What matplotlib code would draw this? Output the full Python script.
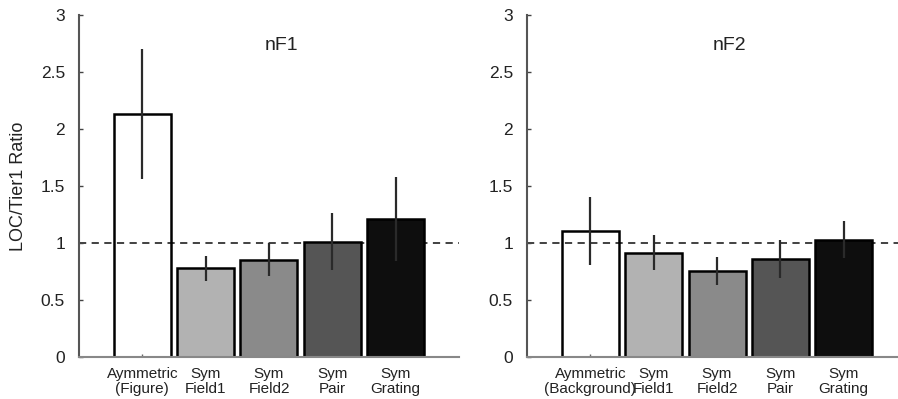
import matplotlib
matplotlib.use("Agg")
import matplotlib.pyplot as plt
import numpy as np

plt.rcParams['font.family'] = ['Liberation Sans', 'DejaVu Sans']

labels_f1 = ["Aymmetric\n(Figure)", "Sym\nField1", "Sym\nField2", "Sym\nPair", "Sym\nGrating"]
labels_f2 = ["Aymmetric\n(Background)", "Sym\nField1", "Sym\nField2", "Sym\nPair", "Sym\nGrating"]
values_f1 = [2.13, 0.78, 0.855, 1.01, 1.21]
errors_f1 = [0.57, 0.11, 0.145, 0.25, 0.37]
values_f2 = [1.105, 0.915, 0.755, 0.86, 1.03]
errors_f2 = [0.30, 0.155, 0.125, 0.17, 0.16]
titles = ["nF1", "nF2"]
yticks = [0, 0.5, 1, 1.5, 2, 2.5, 3]
ytick_labels = ["0", "0.5", "1", "1.5", "2", "2.5", "3"]

face_colors = ['none', '#b2b2b2', '#8a8a8a', '#555555', '#0e0e0e']

W, H = 898, 399
fig = plt.figure(figsize=(W / 100, H / 100), dpi=100)

y0_px, y3_px = 357, 15
ax_h = (y0_px - y3_px) / H
ax_b = (H - y0_px) / H
axes = [fig.add_axes([79 / W, ax_b, 380 / W, ax_h]),
        fig.add_axes([527 / W, ax_b, 380 / W, ax_h])]

for ax, vals, errs, labs, title in zip(axes, [values_f1, values_f2], [errors_f1, errors_f2],
                                       [labels_f1, labels_f2], titles):
    x = np.arange(1, len(vals) + 1)
    ax.axhline(1, color='#333333', lw=1.3, ls=(0, (4, 3)), zorder=0.5)
    ax.bar(x, vals, width=0.9, color=face_colors, edgecolor='black', linewidth=1.8, zorder=2)
    for xi, v, e in zip(x, vals, errs):
        ax.plot([xi, xi], [v - e, v + e], color='#2a2a2a', lw=1.6, zorder=3, solid_capstyle='butt')
    ax.set_xlim(0, 6)
    ax.set_ylim(0, 3)
    ax.set_yticks(yticks)
    ax.set_yticklabels(ytick_labels)
    ax.set_xticks(x)
    ax.set_xticklabels(labs, linespacing=1.15)
    ax.tick_params(axis='y', direction='in', length=3, width=1, color='#444444', pad=10, labelsize=12.5, labelcolor='#222222')
    ax.tick_params(axis='x', direction='in', length=2, width=1, color='#666666', pad=7, labelsize=11, labelcolor='#222222')
    for s in ['top', 'right']:
        ax.spines[s].set_visible(False)
    ax.spines['left'].set_color('#555555')
    ax.spines['left'].set_linewidth(1.5)
    ax.spines['bottom'].set_color('#888888')
    ax.spines['bottom'].set_linewidth(1.5)
    ax.text(3.2, 2.73, title, ha='center', va='center', fontsize=14, color='#222222')
    ax.set_facecolor('none')

axes[0].set_ylabel("LOC/Tier1 Ratio", fontsize=13, color='#222222', labelpad=10)

fig.savefig("out.png", dpi=100)
